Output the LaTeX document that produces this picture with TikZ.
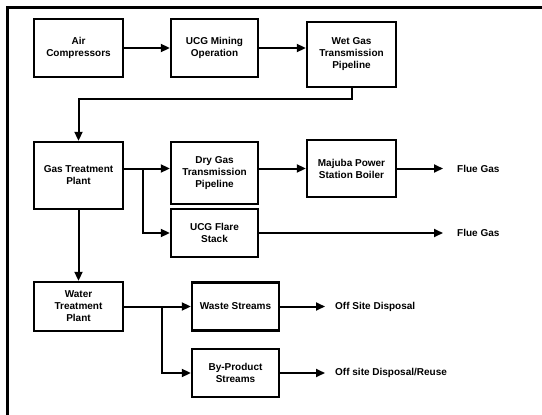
\documentclass[tikz,border=0pt]{standalone}
\usepackage{fontspec}
\setmainfont{Liberation Sans}
\usepackage{tikz}
\usetikzlibrary{positioning,arrows.meta,calc}

\begin{document}
\begin{tikzpicture}[x=1pt,y=-1pt,
    unit/.style={rectangle,draw,line width=2.4pt,minimum width=89pt,
                 font=\fontsize{10}{12}\selectfont\bfseries,align=center,inner sep=2pt},
    outlet/.style={inner sep=0pt,anchor=west,font=\fontsize{10}{12}\selectfont\bfseries},
    arrow/.style={-{Triangle[length=9pt,width=8pt]},line width=2pt}
]
\useasboundingbox (0,0) rectangle (542,415);
\draw[line width=3pt] (7.5,415) -- (7.5,7.5) -- (542,7.5);

\node[unit,minimum height=58pt] (air)      at (78.5,48)    {Air\\Compressors};
\node[unit,minimum height=58pt,minimum width=87pt] (ucg) at (214.5,48) {UCG Mining\\Operation};
\node[unit,minimum height=65pt] (wet_gas)  at (351.5,54.5) {Wet Gas\\Transmission\\Pipeline};

\node[unit,minimum height=67pt] (gas_plant) at (78.5,175.5) {Gas Treatment\\Plant};
\node[unit,minimum height=62pt,minimum width=87pt] (dry_gas) at (214.5,173) {Dry Gas\\Transmission\\Pipeline};
\node[unit,minimum height=57pt] (majuba)   at (351.5,168.5) {Majuba Power\\Station Boiler};
\node[unit,minimum height=48pt,minimum width=87pt] (flare) at (214.5,233) {UCG Flare\\Stack};
\node[outlet] (flue_a) at (457,168.5) {Flue Gas};
\node[outlet] (flue_b) at (457,233)   {Flue Gas};

\node[unit,minimum height=49pt] (water_plant) at (78.5,306.5) {Water\\Treatment\\Plant};
\node[unit,minimum height=48pt,minimum width=87pt] (waste)  at (235.5,306.5) {Waste Streams};
\node[unit,minimum height=48pt,minimum width=87pt] (by_prod) at (235.5,373) {By-Product\\Streams};
\node[outlet] (off_a) at (335,306.5) {Off Site Disposal};
\node[outlet] (off_b) at (335,373)   {Off site Disposal/Reuse};

\coordinate (split_gas)   at (143,168.5);
\coordinate (split_water) at (162,306.5);

\draw[arrow] (air) -- (ucg);
\draw[arrow] (ucg.east) -- (wet_gas.west |- ucg.east);
\draw[arrow] (wet_gas.south) -- ++(0,11) -| (gas_plant.north);
\draw[arrow] (gas_plant.east |- majuba.west) -- (dry_gas.west |- majuba.west);
\draw[arrow] (dry_gas.east |- majuba.west) -- (majuba.west);
\draw[arrow] (split_gas) |- (flare.west);
\draw[arrow,shorten >=14pt] (majuba.east) -- (flue_a.west);
\draw[arrow,shorten >=14pt] (flare.east) -- (flue_b.west);
\draw[arrow] (gas_plant.south) -- (water_plant.north);
\draw[arrow] (water_plant.east) -- (waste.west);
\draw[arrow] (split_water) |- (by_prod.west);
\draw[arrow,shorten >=10pt] (waste.east) -- (off_a.west);
\draw[arrow,shorten >=10pt] (by_prod.east) -- (off_b.west);
\end{tikzpicture}
\end{document}
